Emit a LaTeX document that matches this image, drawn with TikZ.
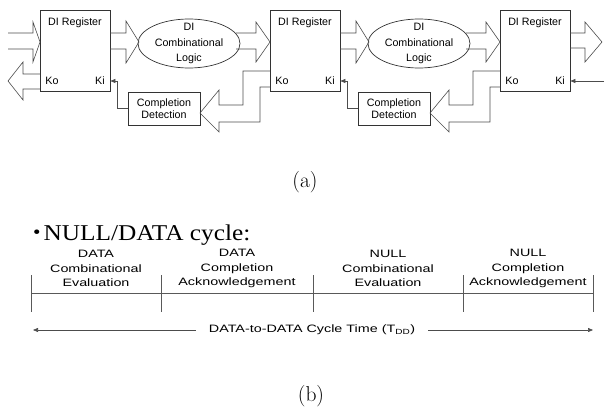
\documentclass[tikz,border=0pt]{standalone}
\usepackage{fontspec}
\usetikzlibrary{arrows.meta,shapes.geometric}
\newfontfamily\sansfnt{Liberation Sans}
\newfontfamily\widesans[FakeStretch=1.34]{Liberation Sans}
\newfontfamily\widetimes[FakeStretch=1.12]{Liberation Serif}

\tikzset{
	regbox/.style={draw=black!80, line width=0.7pt, minimum width=70pt, minimum height=81pt, inner sep=0pt},
	cdbox/.style={draw=black!80, line width=0.7pt, minimum width=72pt, minimum height=33pt, inner sep=0pt, align=center, font=\sansfnt\fontsize{10.7}{12.5}\selectfont},
	logic/.style={ellipse, draw=black!80, line width=0.7pt, minimum width=102pt, minimum height=49pt, inner sep=0pt},
	lbl/.style={inner sep=0.75pt, font=\sansfnt\fontsize{10.7}{15.5}\selectfont},
	blockarr/.style={draw=black!70, line width=0.6pt, line join=miter},
	ackline/.style={draw=black!70, line width=0.6pt, -{Triangle[length=5pt,width=4pt]}},
	colhead/.style={inner sep=0pt, align=center, font=\widesans\fontsize{10.7}{14.5}\selectfont},
	tableline/.style={draw=black!65, line width=0.6pt},
	caption/.style={inner sep=0pt, font=\fontsize{21.5}{24}\selectfont}
}

\begin{document}
\begin{tikzpicture}[x=1pt,y=1pt,yscale=-1]
			\useasboundingbox (0,0) rectangle (607,409);
			% (a) registers, logic and completion detection
			\node [regbox] (reg1) at (75,50.5) {};
			\node [regbox] (reg2) at (305,50.5) {};
			\node [regbox] (reg3) at (535,50.5) {};
			\node [logic] (ell1) at (189,43.5) {};
			\node [logic] (ell2) at (419,43.5) {};
			\node [cdbox] (cd1) at (164,108.5) {Completion\\Detection};
			\node [cdbox] (cd2) at (394,108.5) {Completion\\Detection};
			\draw (75,23) node [lbl] (dir1) {DI Register};
			\draw (305,23) node [lbl] (dir2) {DI Register};
			\draw (535,23) node [lbl] (dir3) {DI Register};
			\draw (52,81) node [lbl] (ko1) {Ko};
			\draw (100,81) node [lbl] (ki1) {Ki};
			\draw (282,81) node [lbl] (ko2) {Ko};
			\draw (330,81) node [lbl] (ki2) {Ki};
			\draw (512,81) node [lbl] (ko3) {Ko};
			\draw (560,81) node [lbl] (ki3) {Ki};
			\draw (ell1) node [lbl, align=center] (cl1) {DI\\Combinational\\Logic};
			\draw (ell2) node [lbl, align=center] (cl2) {DI\\Combinational\\Logic};
			% wide data arrows
			\draw [blockarr] (8,33) -- (33,33) -- (33,22) -- (40,42) -- (33,62) -- (33,49) -- (8,49);
			\draw [blockarr] (110,33) -- (126,33) -- (126,21) -- (139,42) -- (126,63) -- (126,49) -- (110,49);
			\draw [blockarr] (236,33) -- (256,33) -- (256,22) -- (270,42) -- (256,62) -- (256,49) -- (236,49);
			\draw [blockarr] (340,33) -- (356,33) -- (356,21) -- (369,42) -- (356,63) -- (356,49) -- (340,49);
			\draw [blockarr] (466,33) -- (486,33) -- (486,22) -- (500,42) -- (486,62) -- (486,49) -- (466,49);
			\draw [blockarr] (570,33) -- (585,33) -- (585,22) -- (602,42) -- (585,62) -- (585,48) -- (570,48);
			\draw [blockarr] (40,74) -- (23,74) -- (23,62) -- (8,81) -- (23,100) -- (23,89) -- (40,89);
			\draw [blockarr] (270,71) -- (243,71) -- (243,105) -- (219,105) -- (219,90) -- (200,113) -- (219,132) -- (219,122) -- (260,122) -- (260,87) -- (270,87);
			\draw [blockarr] (500,71) -- (473,71) -- (473,105) -- (449,105) -- (449,90) -- (430,113) -- (449,132) -- (449,122) -- (490,122) -- (490,87) -- (500,87);
			% acknowledge lines
			\coordinate (kin) at (604,81);
			\draw [ackline] (cd1.west) -- ++(-10,0) |- (reg1.east |- ki1);
			\draw [ackline] (cd2.west) -- ++(-10,0) |- (reg2.east |- ki2);
			\draw [ackline] (kin) -- (reg3.east |- ki3);
			\draw (305,182) node [caption] (capa) {(a)};
			% (b) NULL/DATA cycle
			\draw (33,240) node [anchor=base west, inner sep=0pt, font=\widetimes\fontsize{22.6}{26}\selectfont] (title) {\raisebox{1.5pt}{\fontsize{19}{19}\selectfont\textbullet}\hspace{3pt}NULL/DATA cycle:};
			\draw (96,268.5) node [colhead] (ph1) {DATA\\Combinational\\Evaluation};
			\draw (237,268.5) node [colhead] (ph2) {DATA\\Completion\\Acknowledgement};
			\draw (388,268.5) node [colhead] (ph3) {NULL\\Combinational\\Evaluation};
			\draw (528,268.5) node [colhead] (ph4) {NULL\\Completion\\Acknowledgement};
			\draw [tableline] (31,293) -- (593,293);
			\draw [tableline] (31,275) -- (31,312);
			\draw [tableline] (161,275) -- (161,312);
			\draw [tableline] (313,275) -- (313,312);
			\draw [tableline] (463,275) -- (463,312);
			\draw [tableline] (593,275) -- (593,312);
			\draw (312,330) node [colhead, inner xsep=13pt] (tdd) {DATA-to-DATA Cycle Time (T\textsubscript{DD})};
			\coordinate (tl) at (33,330);
			\coordinate (tr) at (593,330);
			\draw [ackline] (tdd.west) -- (tl);
			\draw [ackline] (tdd.east) -- (tr);
			\draw (311,396) node [caption] (capb) {(b)};
\end{tikzpicture}
\end{document}
